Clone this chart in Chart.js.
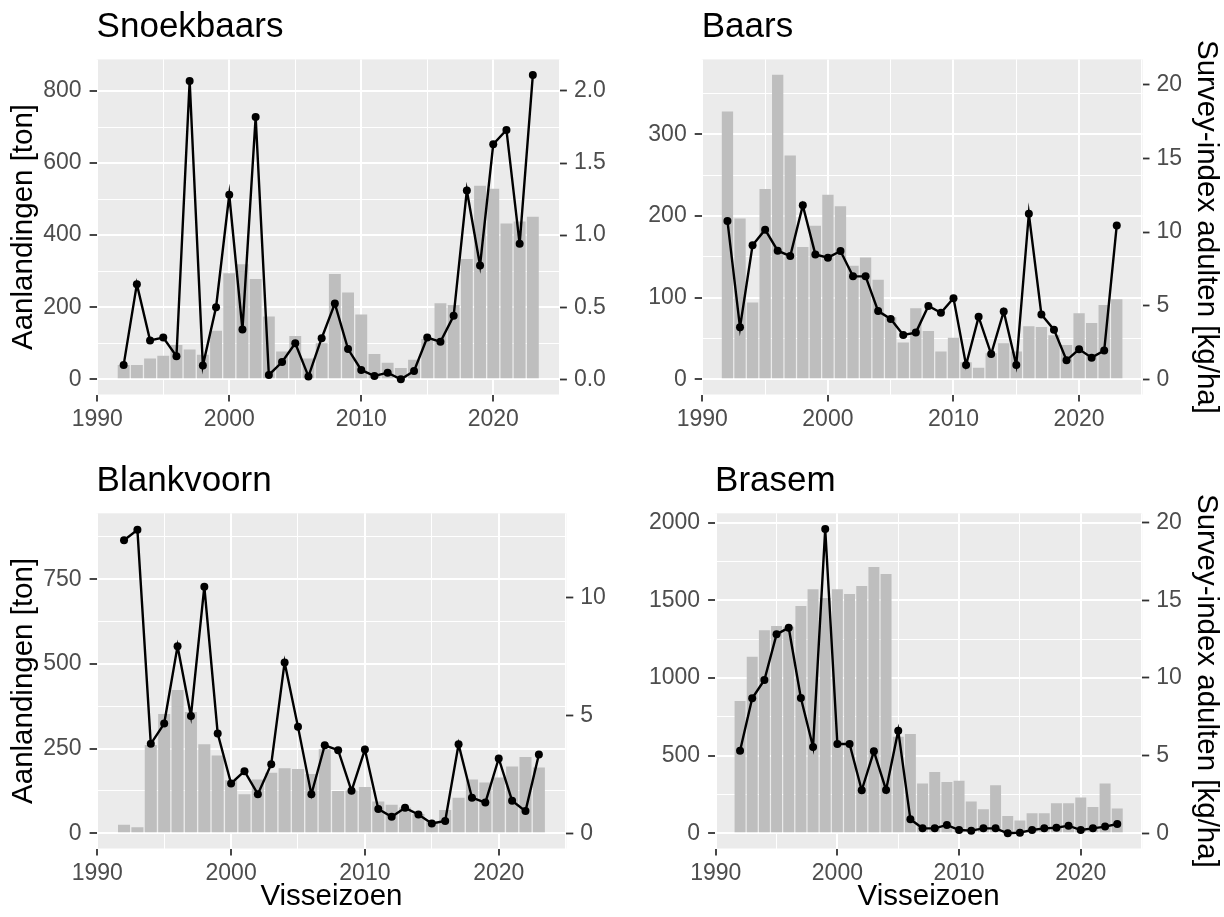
<!DOCTYPE html>
<html>
<head>
<meta charset="utf-8">
<title>Aanlandingen en survey-index per soort</title>
<script src="https://cdn.jsdelivr.net/npm/chart.js@4.4.1/dist/chart.umd.min.js"></script>
<style>
  html, body { margin: 0; padding: 0; background: #ffffff; }
  #fig { position: relative; width: 1224px; height: 917px; overflow: hidden; background: #ffffff; }
  #fig canvas { position: absolute; }
</style>
</head>
<body>
<div id="fig">
  <canvas id="snoekbaars" width="612" height="458" style="left:0px;top:0px"></canvas>
  <canvas id="baars" width="612" height="458" style="left:612px;top:0px"></canvas>
  <canvas id="blankvoorn" width="612" height="459" style="left:0px;top:458px"></canvas>
  <canvas id="brasem" width="612" height="459" style="left:612px;top:458px"></canvas>
</div>
<script>
// Visseizoenen
const years = [1992, 1993, 1994, 1995, 1996, 1997, 1998, 1999, 2000, 2001, 2002, 2003, 2004, 2005, 2006, 2007,
               2008, 2009, 2010, 2011, 2012, 2013, 2014, 2015, 2016, 2017, 2018, 2019, 2020, 2021, 2022, 2023];

// Aanlandingen [ton] (staven, linker as)
const snoekbaarsLandings = [40, 40, 58, 65, 95, 83, 68, 135, 294, 319, 278, 174, 77, 120, 58, 100,
                            292, 241, 180, 70, 46, 31, 54, 112, 211, 206, 334, 537, 529, 432, 438, 451];
const baarsLandings      = [328, 197, 94, 233, 373, 274, 162, 188, 226, 212, 139, 149, 122, 76, 45, 87,
                            59, 34, 51, 21, 14, 32, 44, 34, 65, 64, 54, 42, 81, 69, 91, 98];
const blankvoornLandings = [25, 18, 261, 352, 423, 358, 263, 230, 157, 115, 159, 179, 192, 190, 175, 248,
                            125, 126, 137, 94, 84, 76, 57, 35, 69, 105, 159, 150, 165, 197, 225, 194];
const brasemLandings     = [852, 1137, 1307, 1335, 1330, 1464, 1571, 1515, 1571, 1541, 1592, 1715, 1670, 622, 640, 320,
                            395, 330, 339, 204, 155, 309, 112, 82, 129, 129, 193, 193, 230, 170, 320, 159];

// Survey-index adulten [kg/ha] (lijn met punten, rechter as)
const snoekbaarsIndex = [0.10, 0.66, 0.27, 0.29, 0.16, 2.07, 0.095, 0.50, 1.28, 0.345, 1.82, 0.03, 0.12, 0.25, 0.02, 0.285,
                         0.525, 0.21, 0.065, 0.023, 0.046, 0.0, 0.058, 0.29, 0.26, 0.44, 1.31, 0.79, 1.63, 1.73, 0.94, 2.11];
const baarsIndex      = [10.75, 3.53, 9.10, 10.16, 8.73, 8.37, 11.81, 8.48, 8.26, 8.71, 6.99, 6.99, 4.63, 4.10, 3.01, 3.17,
                         4.98, 4.52, 5.51, 0.97, 4.24, 1.71, 4.61, 0.97, 11.24, 4.40, 3.37, 1.29, 2.04, 1.47, 1.95, 10.45];
const blankvoornIndex = [12.42, 12.86, 3.79, 4.65, 7.93, 4.97, 10.45, 4.23, 2.11, 2.63, 1.66, 2.93, 7.24, 4.51, 1.65, 3.73,
                         3.52, 1.80, 3.55, 1.03, 0.70, 1.08, 0.80, 0.42, 0.52, 3.77, 1.51, 1.30, 3.17, 1.38, 0.94, 3.34];
const brasemIndex     = [5.32, 8.69, 9.87, 12.81, 13.24, 8.71, 5.56, 19.59, 5.75, 5.75, 2.77, 5.28, 2.79, 6.61, 0.90, 0.32,
                         0.32, 0.54, 0.21, 0.17, 0.32, 0.32, 0.0, 0.04, 0.21, 0.32, 0.36, 0.49, 0.21, 0.32, 0.43, 0.60];

// As-indelingen: gelabelde breaks en tussenliggende rasterlijnen
const yearBreaks      = [1990, 2000, 2010, 2020];
const yearMinor       = [1995, 2005, 2015, 2025];
const snoekbaarsLeft  = [0, 200, 400, 600, 800];
const snoekbaarsMinor = [100, 300, 500, 700];
const snoekbaarsRight = [0, 0.5, 1.0, 1.5, 2.0];
const baarsLeft       = [0, 100, 200, 300];
const baarsMinor      = [50, 150, 250, 350];
const baarsRight      = [0, 5, 10, 15, 20];
const blankvoornLeft  = [0, 250, 500, 750];
const blankvoornMinor = [125, 375, 625, 875];
const blankvoornRight = [0, 5, 10];
const brasemLeft      = [0, 500, 1000, 1500, 2000];
const brasemMinor     = [250, 750, 1250, 1750];
const brasemRight     = [0, 5, 10, 15, 20];

// Teksten
const panelTitles = ['Snoekbaars', 'Baars', 'Blankvoorn', 'Brasem'];
const leftAxisTitle = 'Aanlandingen [ton]';
const rightAxisTitle = 'Survey-index adulten [kg/ha]';
const xAxisTitle = 'Visseizoen';

const FONT = "'Liberation Sans', Arial, Helvetica, sans-serif";
Chart.defaults.font.family = FONT;

// Grey panel behind the plotting area
const panelBackground = {
  id: 'panelBackground',
  beforeDraw(chart, args, opts) {
    const { ctx, chartArea: a } = chart;
    ctx.save();
    ctx.fillStyle = opts.color;
    ctx.fillRect(a.left, a.top, a.right - a.left, a.bottom - a.top);
    ctx.restore();
  }
};

// Panel title, left-aligned with the plotting area
const panelTitle = {
  id: 'panelTitle',
  afterDraw(chart, args, opts) {
    const { ctx, chartArea: a } = chart;
    ctx.save();
    ctx.font = opts.size + 'px ' + FONT;
    ctx.fillStyle = '#000000';
    ctx.textAlign = 'left';
    ctx.textBaseline = 'alphabetic';
    ctx.fillText(opts.text, a.left, a.top - opts.gap);
    ctx.restore();
  }
};

// Ticks = labelled breaks plus minor grid positions
function setTicks(major, minor) {
  return scale => {
    const all = major.map(v => ({ value: v, major: true }))
      .concat(minor.filter(v => v >= scale.min && v <= scale.max).map(v => ({ value: v, major: false })));
    all.sort((a, b) => a.value - b.value);
    scale.ticks = all;
  };
}
const isMajorTick = ctx => !!(ctx.tick && ctx.tick.major);

// White major/minor grid with dark tick marks on the major breaks only
const gridStyle = {
  color: '#FFFFFF',
  lineWidth: ctx => isMajorTick(ctx) ? 2 : 1,
  tickColor: ctx => isMajorTick(ctx) ? '#333333' : 'rgba(0,0,0,0)',
  tickWidth: 1.8,
  tickLength: 7,
  offset: false
};

const tickFont = { size: 23 };
const tickColor = '#4D4D4D';
const axisTitleFont = { size: 29.5 };

function panelChart(id, p) {
  const barData = years.map((x, i) => ({ x: x, y: p.landings[i] }));
  const lineData = years.map((x, i) => ({ x: x, y: p.index[i] }));
  const labelOf = (ticks, fmt) => (v, i, arr) => (arr[i] && arr[i].major) ? fmt(v) : '';
  return new Chart(document.getElementById(id), {
    type: 'bar',
    data: {
      datasets: [
        {
          type: 'line',
          label: rightAxisTitle,
          data: lineData,
          yAxisID: 'y1',
          order: 1,
          borderColor: '#000000',
          backgroundColor: '#000000',
          borderWidth: 2.4,
          pointRadius: 4,
          pointHoverRadius: 4,
          pointBorderWidth: 0,
          pointBackgroundColor: '#000000',
          tension: 0
        },
        {
          type: 'bar',
          label: leftAxisTitle,
          data: barData,
          yAxisID: 'y',
          order: 2,
          backgroundColor: '#BEBEBE',
          borderWidth: 0,
          barPercentage: 0.9,
          categoryPercentage: 1.0
        }
      ]
    },
    options: {
      responsive: false,
      animation: false,
      devicePixelRatio: 1,
      layout: { padding: { top: p.top, left: 0, right: 0, bottom: 0 } },
      plugins: {
        legend: { display: false },
        tooltip: { enabled: false },
        panelBackground: { color: '#EBEBEB' },
        panelTitle: { text: p.title, size: 35, gap: 22.7 }
      },
      scales: {
        x: {
          type: 'linear',
          position: 'bottom',
          min: 1989.95,
          max: 2025.05,
          offset: false,
          border: { display: false },
          grid: gridStyle,
          afterBuildTicks: setTicks(yearBreaks, yearMinor),
          ticks: {
            autoSkip: false,
            maxRotation: 0,
            minRotation: 0,
            color: tickColor,
            font: tickFont,
            padding: 4,
            callback: labelOf(yearBreaks, v => String(v))
          },
          title: {
            display: p.showX,
            text: xAxisTitle,
            color: '#000000',
            font: axisTitleFont,
            padding: { top: 0, bottom: 2 }
          },
          afterFit: s => { s.height = p.xH; }
        },
        y: {
          type: 'linear',
          position: 'left',
          min: p.yMin,
          max: p.yMax,
          border: { display: false },
          grid: gridStyle,
          afterBuildTicks: setTicks(p.leftTicks, p.leftMinor),
          ticks: {
            autoSkip: false,
            color: tickColor,
            font: tickFont,
            padding: 8,
            callback: labelOf(p.leftTicks, v => String(v))
          },
          title: {
            display: p.showLeft,
            text: leftAxisTitle,
            color: '#000000',
            font: axisTitleFont,
            padding: { top: 6, bottom: 0 }
          },
          afterFit: s => { s.width = p.yW; }
        },
        y1: {
          type: 'linear',
          position: 'right',
          min: p.y1Min,
          max: p.y1Max,
          border: { display: false },
          grid: {
            drawOnChartArea: false,
            color: '#333333',
            tickColor: '#333333',
            tickWidth: 1.8,
            tickLength: 7
          },
          afterBuildTicks: setTicks(p.rightTicks, []),
          ticks: {
            autoSkip: false,
            color: tickColor,
            font: tickFont,
            padding: 7,
            callback: labelOf(p.rightTicks, p.y1Fmt)
          },
          title: {
            display: p.showRight,
            text: rightAxisTitle,
            color: '#000000',
            font: axisTitleFont,
            padding: { top: 0, bottom: 0 }
          },
          afterFit: s => { s.width = p.y1W; }
        }
      }
    },
    plugins: [panelBackground, panelTitle]
  });
}

const plain = v => String(v);

panelChart('snoekbaars', {
  title: panelTitles[0], landings: snoekbaarsLandings, index: snoekbaarsIndex,
  yMin: -42.2, yMax: 887.7, leftTicks: snoekbaarsLeft, leftMinor: snoekbaarsMinor,
  y1Min: -0.1054, y1Max: 2.219, rightTicks: snoekbaarsRight, y1Fmt: v => v.toFixed(1),
  top: 59.4, yW: 96.6, y1W: 52.1, xH: 63.5,
  showLeft: true, showRight: false, showX: false
});

panelChart('baars', {
  title: panelTitles[1], landings: baarsLandings, index: baarsIndex,
  yMin: -18.6, yMax: 391.7, leftTicks: baarsLeft, leftMinor: baarsMinor,
  y1Min: -1.032, y1Max: 21.72, rightTicks: baarsRight, y1Fmt: plain,
  top: 59.4, yW: 89.7, y1W: 81.5, xH: 63.5,
  showLeft: false, showRight: true, showX: false
});

panelChart('blankvoorn', {
  title: panelTitles[2], landings: blankvoornLandings, index: blankvoornIndex,
  yMin: -44.9, yMax: 944.9, leftTicks: blankvoornLeft, leftMinor: blankvoornMinor,
  y1Min: -0.644, y1Max: 13.56, rightTicks: blankvoornRight, y1Fmt: plain,
  top: 55.3, yW: 96.6, y1W: 45.7, xH: 68.5,
  showLeft: true, showRight: false, showX: true
});

panelChart('brasem', {
  title: panelTitles[3], landings: brasemLandings, index: brasemIndex,
  yMin: -97.9, yMax: 2060.5, leftTicks: brasemLeft, leftMinor: brasemMinor,
  y1Min: -0.979, y1Max: 20.605, rightTicks: brasemRight, y1Fmt: plain,
  top: 55.3, yW: 103.1, y1W: 81.8, xH: 68.5,
  showLeft: false, showRight: true, showX: true
});
</script>
</body>
</html>
